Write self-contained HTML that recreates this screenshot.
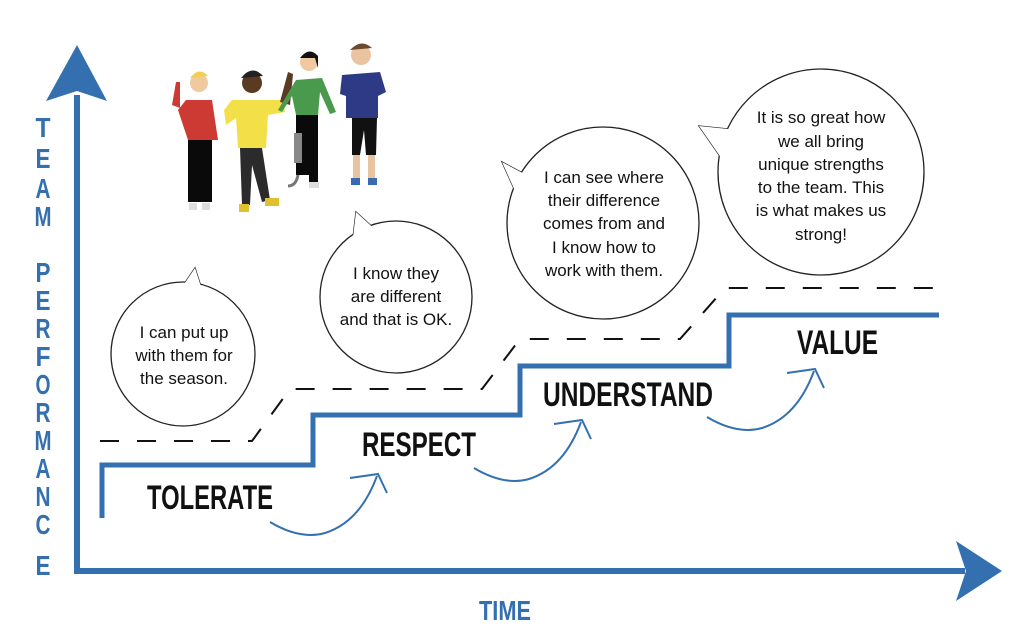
<!DOCTYPE html>
<html><head><meta charset="utf-8"><style>
html,body{margin:0;padding:0;background:#fff;}
svg{display:block;}
.b{font-family:"Liberation Sans",Arial,sans-serif;font-size:17px;fill:#111;text-anchor:middle;}
.lab{font-family:"Liberation Sans",Arial,sans-serif;font-weight:bold;font-size:34px;fill:#111;}
.ax{font-family:"Liberation Sans",Arial,sans-serif;font-weight:bold;font-size:28px;fill:#3470b0;text-anchor:middle;}
</style></head><body>
<svg width="1024" height="640" viewBox="0 0 1024 640" xmlns="http://www.w3.org/2000/svg">
<line x1="77" y1="95" x2="77" y2="573" stroke="#3470b0" stroke-width="6"/>
<polygon points="77,45 107,101 77,91 46,101" fill="#3470b0"/>
<line x1="74" y1="571" x2="965" y2="571" stroke="#3470b0" stroke-width="6"/>
<polygon points="1002,571 956,541 966,571 956,601" fill="#3470b0"/>
<g class="ax">
<text x="43" y="137" textLength="15" lengthAdjust="spacingAndGlyphs">T</text>
<text x="43" y="168" textLength="15" lengthAdjust="spacingAndGlyphs">E</text>
<text x="43" y="198" textLength="15" lengthAdjust="spacingAndGlyphs">A</text>
<text x="43" y="226" textLength="17" lengthAdjust="spacingAndGlyphs">M</text>
<text x="43" y="282" textLength="15" lengthAdjust="spacingAndGlyphs">P</text>
<text x="43" y="310" textLength="15" lengthAdjust="spacingAndGlyphs">E</text>
<text x="43" y="338" textLength="15" lengthAdjust="spacingAndGlyphs">R</text>
<text x="43" y="366" textLength="15" lengthAdjust="spacingAndGlyphs">F</text>
<text x="43" y="394" textLength="15" lengthAdjust="spacingAndGlyphs">O</text>
<text x="43" y="422" textLength="15" lengthAdjust="spacingAndGlyphs">R</text>
<text x="43" y="450" textLength="17" lengthAdjust="spacingAndGlyphs">M</text>
<text x="43" y="478" textLength="15" lengthAdjust="spacingAndGlyphs">A</text>
<text x="43" y="506" textLength="15" lengthAdjust="spacingAndGlyphs">N</text>
<text x="43" y="534" textLength="15" lengthAdjust="spacingAndGlyphs">C</text>
<text x="43" y="575" textLength="15" lengthAdjust="spacingAndGlyphs">E</text>
<text x="505" y="620" textLength="52" lengthAdjust="spacingAndGlyphs">TIME</text>
</g>
<polyline points="102,518 102,465 313,465 313,415 520,415 520,366 729,366 729,315 939,315" fill="none" stroke="#3470b0" stroke-width="5"/>
<polyline points="100,441 252,441 290,389 482,389 520,339 680,339 725,288 940,288" fill="none" stroke="#111" stroke-width="2" stroke-dasharray="19,18"/>
<text class="lab" x="147" y="509" textLength="126" lengthAdjust="spacingAndGlyphs">TOLERATE</text>
<text class="lab" x="362" y="456" textLength="114" lengthAdjust="spacingAndGlyphs">RESPECT</text>
<text class="lab" x="543" y="406" textLength="170" lengthAdjust="spacingAndGlyphs">UNDERSTAND</text>
<text class="lab" x="797" y="354" textLength="81" lengthAdjust="spacingAndGlyphs">VALUE</text>
<g fill="none" stroke="#3470b0" stroke-width="2">
<path d="M270,522 Q300,540 325,533 Q360,522 377,476"/><path d="M350,478 L378,474 L387,493"/>
<path d="M474,468 Q504,486 529,479 Q564,468 581,422"/><path d="M554,424 L582,420 L591,439"/>
<path d="M707,417 Q737,435 762,428 Q797,417 814,371"/><path d="M787,373 L815,369 L824,388"/>
</g>
<g stroke="#222" stroke-width="1.3" fill="#fff">
<polygon points="176,296 195,268 204,296"/>
<circle cx="183" cy="354" r="72"/>
<polygon points="176,296 195,268 204,296" stroke="none"/>
<polygon points="352,246 356,212 380,234"/>
<circle cx="396" cy="297" r="76"/>
<polygon points="352,246 356,212 380,234" stroke="none"/>
<polygon points="532,178 502,162 520,202"/>
<circle cx="603" cy="223" r="96"/>
<polygon points="532,178 502,162 520,202" stroke="none"/>
<polygon points="738,130 699,126 724,162"/>
<circle cx="821" cy="172" r="103"/>
<polygon points="738,130 699,126 724,162" stroke="none"/>
</g>
<g class="b">
<text x="184" y="338">I can put up</text><text x="184" y="361">with them for</text><text x="184" y="384">the season.</text>
<text x="396" y="279">I know they</text><text x="396" y="302">are different</text><text x="396" y="325">and that is OK.</text>
<text x="604" y="183">I can see where</text><text x="604" y="206">their difference</text><text x="604" y="229">comes from and</text><text x="604" y="253">I know how to</text><text x="604" y="276">work with them.</text>
<text x="821" y="123">It is so great how</text><text x="821" y="147">we all bring</text><text x="821" y="170">unique strengths</text><text x="821" y="193">to the team. This</text><text x="821" y="216">is what makes us</text><text x="821" y="240">strong!</text>
</g>
<g>
<circle cx="199" cy="83" r="9" fill="#f0c9a0"/><path d="M190,78 Q199,66 208,76 Z" fill="#f2cf52"/>
<path d="M178,110 L186,100 L212,100 L218,140 L188,140 Z" fill="#cc3a33"/>
<path d="M172,105 L176,82 L180,82 L180,108 Z" fill="#cc3a33"/>
<rect x="188" y="140" width="24" height="62" fill="#0a0a0a"/>
<rect x="189" y="203" width="8" height="7" fill="#ddd"/><rect x="202" y="203" width="8" height="7" fill="#ddd"/>
<circle cx="252" cy="83" r="10" fill="#5a3a22"/><path d="M241,78 Q252,64 263,76 Z" fill="#222"/>
<path d="M224,110 L232,100 L270,100 L283,100 L285,112 L268,115 L266,148 L238,148 L236,118 L226,125 Z" fill="#f3df48"/>
<path d="M280,102 L288,72 L293,74 L290,105 Z" fill="#5a3a22"/>
<path d="M240,148 L262,148 L270,200 L262,202 L252,165 L250,205 L242,205 Z" fill="#2b2b2b"/>
<rect x="239" y="204" width="10" height="8" fill="#e0c030"/><rect x="265" y="198" width="14" height="8" fill="#e0c030"/>
<circle cx="309" cy="62" r="9" fill="#f0c9a0"/><path d="M300,58 Q309,46 318,56 L318,68 L315,58 Z" fill="#111"/>
<path d="M296,80 L322,78 L336,112 L330,114 L320,92 L318,115 L296,115 L292,96 L282,112 L278,110 Z" fill="#4a9a4e"/>
<rect x="296" y="115" width="22" height="60" fill="#0a0a0a"/>
<rect x="294" y="133" width="8" height="30" fill="#888"/><path d="M298,175 Q296,186 288,186" stroke="#777" stroke-width="3" fill="none"/>
<rect x="309" y="175" width="9" height="12" fill="#0a0a0a"/><rect x="309" y="182" width="10" height="6" fill="#ddd"/>
<circle cx="361" cy="55" r="10" fill="#eac3a0"/><path d="M350,50 Q361,38 372,48 Z" fill="#6b4a30"/>
<path d="M342,75 L380,72 L386,92 L378,96 L378,118 L346,118 L346,96 L340,94 Z" fill="#2e3a86"/>
<path d="M352,118 L377,118 L376,155 L366,155 L364,130 L360,155 L352,155 Z" fill="#111"/>
<rect x="353" y="155" width="7" height="25" fill="#e8c3a0"/><rect x="368" y="155" width="7" height="25" fill="#e8c3a0"/>
<rect x="351" y="178" width="9" height="7" fill="#3a6ab0"/><rect x="368" y="178" width="9" height="7" fill="#3a6ab0"/>
</g>
</svg>
</body></html>
